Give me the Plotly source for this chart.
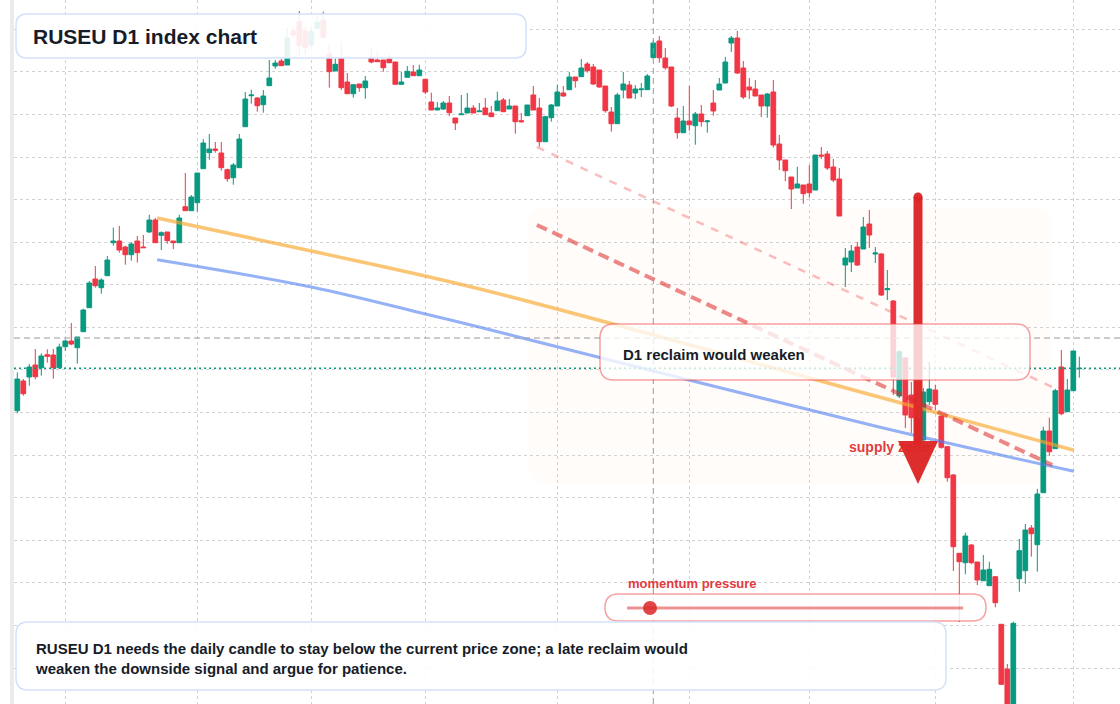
import plotly.graph_objects as go

# daily bars, oldest first (index units on the x axis)
open_ = [
    1293.3, 1323.0, 1327.0, 1339.0, 1336.3, 1349.3, 1349.0, 1336.3, 1357.3, 1363.0,
    1356.3, 1372.3, 1396.3, 1425.0, 1416.3, 1428.3, 1461.3, 1463.0, 1457.0, 1449.3,
    1463.0, 1457.0, 1472.0, 1484.0, 1468.7, 1472.0, 1463.0, 1461.3, 1497.3, 1493.3,
    1501.3, 1535.3, 1551.3, 1555.0, 1551.0, 1534.3, 1526.3, 1536.3, 1577.3, 1608.3,
    1606.0, 1599.3, 1618.3, 1638.0, 1643.0, 1639.0, 1673.0, 1682.3, 1673.0, 1659.0,
    1675.7, 1684.0, 1650.0, 1633.0, 1646.0, 1622.0, 1610.3, 1620.0, 1616.3, 1646.0,
    1644.0, 1644.0, 1645.0, 1642.0, 1619.7, 1626.7, 1632.0, 1628.3, 1624.7, 1602.0,
    1594.0, 1595.0, 1601.0, 1586.0, 1589.3, 1591.0, 1596.0, 1592.3, 1596.0, 1591.0,
    1593.3, 1604.0, 1595.0, 1598.0, 1583.3, 1588.3, 1609.0, 1596.0, 1562.3, 1586.3,
    1598.0, 1611.0, 1614.3, 1627.0, 1627.3, 1640.0, 1637.0, 1634.0, 1618.0, 1592.0,
    1580.3, 1614.0, 1619.0, 1611.0, 1614.3, 1614.3, 1646.3, 1663.0, 1646.0, 1637.0,
    1586.0, 1571.3, 1583.0, 1578.3, 1590.0, 1582.3, 1601.0, 1614.0, 1621.0, 1661.0,
    1666.0, 1636.0, 1617.0, 1615.0, 1609.0, 1598.0, 1612.0, 1560.0, 1544.0, 1527.0,
    1516.0, 1519.0, 1520.0, 1514.0, 1549.0, 1550.0, 1537.0, 1525.0, 1439.0, 1442.0,
    1457.0, 1455.0, 1480.0, 1450.0, 1450.0, 1414.3, 1403.0, 1308.0, 1346.0, 1309.0,
    1286.0, 1264.0, 1302.3, 1314.0, 1288.0, 1257.3, 1229.0, 1150.7, 1141.3, 1159.0,
    1142.0, 1123.3, 1118.3, 1127.3, 1079.7, 1035.0, 988.0, 1125.3, 1133.3, 1176.0,
    1159.3, 1211.3, 1273.0, 1255.3, 1337.0, 1292.3, 1313.3, 1335.3,
]
high = [
    1331.7, 1325.0, 1340.0, 1355.0, 1350.7, 1354.7, 1355.0, 1360.3, 1364.7, 1381.0,
    1367.0, 1395.3, 1423.0, 1438.0, 1425.7, 1448.0, 1476.3, 1478.0, 1458.3, 1462.0,
    1468.0, 1469.0, 1489.3, 1486.0, 1472.7, 1472.0, 1463.0, 1489.3, 1531.0, 1509.0,
    1531.0, 1565.0, 1570.0, 1562.0, 1562.0, 1535.3, 1541.0, 1570.0, 1612.0, 1614.3,
    1607.0, 1614.0, 1644.0, 1644.0, 1645.3, 1676.0, 1676.3, 1693.0, 1677.3, 1676.0,
    1689.0, 1692.3, 1659.0, 1646.0, 1662.3, 1631.0, 1619.3, 1620.0, 1628.0, 1656.0,
    1653.3, 1644.0, 1650.0, 1642.0, 1632.3, 1638.0, 1639.0, 1639.3, 1624.7, 1611.3,
    1602.0, 1603.0, 1608.0, 1586.0, 1609.0, 1611.0, 1599.0, 1601.0, 1606.0, 1598.0,
    1612.3, 1606.0, 1605.0, 1598.0, 1591.0, 1599.0, 1618.0, 1606.0, 1588.3, 1600.0,
    1619.0, 1618.0, 1632.0, 1627.0, 1645.0, 1642.0, 1640.0, 1634.0, 1618.0, 1597.0,
    1611.0, 1632.0, 1623.0, 1619.0, 1621.0, 1630.0, 1664.0, 1668.0, 1656.0, 1637.0,
    1596.0, 1598.0, 1618.0, 1592.0, 1599.0, 1584.0, 1614.0, 1626.0, 1647.0, 1668.0,
    1673.0, 1643.0, 1626.0, 1624.0, 1609.0, 1611.0, 1624.0, 1569.0, 1544.0, 1527.0,
    1537.3, 1519.0, 1539.0, 1549.0, 1557.0, 1553.0, 1545.0, 1536.0, 1456.0, 1459.0,
    1462.0, 1487.0, 1494.0, 1457.0, 1451.0, 1434.0, 1404.0, 1354.0, 1347.0, 1322.0,
    1294.0, 1316.0, 1342.0, 1319.0, 1288.0, 1257.3, 1230.0, 1151.0, 1171.3, 1160.0,
    1142.0, 1149.0, 1142.3, 1127.3, 1079.7, 1040.0, 1082.3, 1165.0, 1180.0, 1179.0,
    1215.0, 1277.3, 1286.3, 1315.3, 1354.0, 1325.0, 1353.0, 1347.3,
]
low = [
    1290.7, 1308.3, 1318.3, 1324.7, 1328.3, 1341.3, 1325.3, 1335.0, 1353.0, 1358.7,
    1340.3, 1372.3, 1396.3, 1416.3, 1410.3, 1428.3, 1458.3, 1451.3, 1439.3, 1443.3,
    1441.3, 1456.3, 1471.3, 1461.3, 1454.0, 1460.3, 1455.0, 1461.3, 1493.3, 1493.3,
    1492.3, 1535.3, 1544.3, 1551.3, 1533.3, 1522.3, 1519.3, 1536.3, 1577.3, 1600.3,
    1592.3, 1591.3, 1618.3, 1635.3, 1638.3, 1639.0, 1666.3, 1649.0, 1649.0, 1656.0,
    1675.7, 1666.3, 1616.3, 1633.0, 1614.0, 1610.3, 1606.3, 1612.3, 1605.3, 1640.7,
    1642.3, 1632.3, 1640.7, 1619.7, 1619.7, 1626.7, 1628.3, 1628.3, 1610.0, 1594.0,
    1594.0, 1594.0, 1588.0, 1574.0, 1589.3, 1591.0, 1591.0, 1592.3, 1589.3, 1587.3,
    1593.3, 1592.3, 1595.0, 1570.3, 1581.3, 1588.3, 1594.0, 1557.3, 1562.3, 1582.3,
    1598.0, 1607.3, 1614.3, 1616.3, 1627.3, 1631.3, 1619.0, 1616.3, 1591.3, 1572.3,
    1580.3, 1605.7, 1606.0, 1605.0, 1607.0, 1614.3, 1646.3, 1641.3, 1634.3, 1597.0,
    1565.3, 1571.3, 1573.3, 1559.3, 1577.3, 1571.3, 1588.3, 1614.0, 1621.0, 1652.0,
    1630.0, 1605.0, 1605.0, 1608.0, 1587.0, 1586.3, 1556.3, 1534.0, 1523.0, 1495.0,
    1516.0, 1500.3, 1506.3, 1514.0, 1545.0, 1534.0, 1522.0, 1488.0, 1417.0, 1432.0,
    1438.0, 1455.0, 1456.0, 1441.0, 1408.0, 1404.0, 1309.0, 1306.0, 1276.0, 1271.0,
    1259.0, 1262.0, 1299.0, 1294.0, 1255.3, 1222.3, 1133.0, 1082.0, 1129.7, 1139.7,
    1119.0, 1123.3, 1118.3, 1096.7, 1019.0, 979.0, 982.0, 1112.3, 1120.3, 1147.3,
    1132.3, 1211.3, 1248.3, 1255.3, 1288.7, 1292.3, 1313.3, 1326.3,
]
close = [
    1325.0, 1310.3, 1337.0, 1327.3, 1348.0, 1347.7, 1336.3, 1357.0, 1363.0, 1360.0,
    1367.0, 1394.0, 1421.0, 1418.3, 1424.0, 1444.0, 1463.0, 1454.0, 1449.3, 1460.0,
    1451.3, 1456.3, 1484.0, 1461.3, 1471.3, 1463.3, 1461.3, 1486.0, 1493.3, 1507.0,
    1531.0, 1561.0, 1555.0, 1553.7, 1536.3, 1525.3, 1539.0, 1565.0, 1605.0, 1609.0,
    1598.3, 1608.0, 1626.0, 1641.0, 1638.3, 1666.3, 1669.0, 1658.3, 1656.3, 1672.3,
    1681.7, 1666.3, 1632.3, 1639.7, 1616.3, 1610.3, 1619.3, 1616.3, 1623.0, 1642.0,
    1642.3, 1636.3, 1641.3, 1619.7, 1622.0, 1632.7, 1628.3, 1634.0, 1612.0, 1594.0,
    1596.0, 1601.0, 1591.3, 1581.0, 1590.0, 1596.0, 1591.0, 1593.0, 1589.3, 1587.3,
    1603.0, 1592.3, 1598.0, 1582.3, 1582.3, 1599.0, 1594.0, 1562.3, 1587.3, 1599.0,
    1612.0, 1608.0, 1627.0, 1623.3, 1636.0, 1633.3, 1620.0, 1617.0, 1593.3, 1580.3,
    1609.0, 1620.0, 1606.0, 1615.0, 1615.0, 1628.0, 1661.0, 1646.3, 1636.3, 1598.0,
    1571.3, 1583.0, 1579.3, 1590.0, 1582.3, 1583.0, 1593.0, 1620.0, 1642.0, 1666.0,
    1631.0, 1607.0, 1614.0, 1608.0, 1598.0, 1610.0, 1559.0, 1544.0, 1533.3, 1515.0,
    1520.0, 1510.3, 1511.3, 1549.0, 1548.0, 1536.0, 1524.0, 1488.0, 1446.0, 1453.0,
    1439.0, 1477.0, 1469.0, 1451.0, 1409.0, 1415.3, 1327.0, 1352.3, 1289.0, 1286.3,
    1264.0, 1312.0, 1315.0, 1299.7, 1256.7, 1226.3, 1157.3, 1142.3, 1168.0, 1141.3,
    1124.0, 1134.0, 1134.7, 1101.3, 1019.7, 986.0, 1080.7, 1153.3, 1174.0, 1170.3,
    1210.0, 1273.0, 1252.3, 1313.3, 1290.3, 1314.0, 1353.0, 1335.7,
]
bars = list(range(len(close)))

# month boundaries used for the vertical grid
grid_bars = [8, 30, 49, 68, 90, 112, 132, 153, 176]

# drawn analysis lines (bar index, price)
orange_x = [23.3, 49.0, 77.1, 143.8, 176.1]
orange_y = [1486.0, 1453.0, 1415.0, 1306.7, 1253.7]
blue_x = [23.3, 49.0, 68.0, 77.1, 143.8, 176.1]
blue_y = [1444.3, 1417.0, 1390.0, 1376.7, 1276.7, 1232.7]
upper_dash_x = [86.6, 172.5]
upper_dash_y = [1557.0, 1317.0]
lower_dash_x = [86.6, 172.5]
lower_dash_y = [1479.0, 1239.0]

# crosshair
cross_bar = 106
cross_price = 1366.0

title_text = "RUSEU D1 index chart"
note_text = ("RUSEU D1 needs the daily candle to stay below the current price zone; a late reclaim would"
             "<br>weaken the downside signal and argue for patience.")
reclaim_text = "D1 reclaim would weaken"
momentum_text = "momentum pressure"
supply_text = "supply zone"

GREEN = "#089981"
RED = "#f23645"
INK = "#161c28"
FONT = "Liberation Sans, Arial, sans-serif"

# page geometry (pixels) -> paper / data helpers
W, H, L = 1120, 704, 14
PW = W - L
X_RANGE = [-0.55, 183.78]
Y_RANGE = [1000, 1704]


def px(x):
    return (x - L) / PW


def py(y):
    return 1 - y / H


def to_bar(x):
    return X_RANGE[0] + (x - L) / PW * (X_RANGE[1] - X_RANGE[0])


def to_price(y):
    return Y_RANGE[1] - y / H * (Y_RANGE[1] - Y_RANGE[0])


def rounded_rect(x0, y0, x1, y1, r):
    pts = [
        ("M", x0 + r, y0), ("L", x1 - r, y0), ("Q", x1, y0, x1, y0 + r),
        ("L", x1, y1 - r), ("Q", x1, y1, x1 - r, y1), ("L", x0 + r, y1),
        ("Q", x0, y1, x0, y1 - r), ("L", x0, y0 + r), ("Q", x0, y0, x0 + r, y0),
    ]
    out = []
    for p in pts:
        if p[0] == "Q":
            out.append("Q%.5f,%.5f %.5f,%.5f" % (px(p[1]), py(p[2]), px(p[3]), py(p[4])))
        else:
            out.append("%s%.5f,%.5f" % (p[0], px(p[1]), py(p[2])))
    return " ".join(out) + " Z"


def box(x0, y0, x1, y1, r, fill, line, width=1.5, layer="above"):
    return dict(type="path", xref="paper", yref="paper", path=rounded_rect(x0, y0, x1, y1, r),
                fillcolor=fill, line=dict(color=line, width=width), layer=layer)


fig = go.Figure()

fig.add_trace(go.Candlestick(
    x=bars, open=open_, high=high, low=low, close=close,
    increasing=dict(line=dict(color=GREEN, width=1), fillcolor=GREEN),
    decreasing=dict(line=dict(color=RED, width=1), fillcolor=RED),
    whiskerwidth=0, showlegend=False, hoverinfo="skip",
))

fig.add_trace(go.Scatter(x=orange_x, y=orange_y, mode="lines", line_shape="spline",
                         line=dict(color="rgba(247,168,44,0.65)", width=3.5),
                         showlegend=False, hoverinfo="skip"))
fig.add_trace(go.Scatter(x=blue_x, y=blue_y, mode="lines", line_shape="spline",
                         line=dict(color="rgba(79,127,242,0.6)", width=3),
                         showlegend=False, hoverinfo="skip"))
fig.add_trace(go.Scatter(x=upper_dash_x, y=upper_dash_y, mode="lines",
                         line=dict(color="rgba(239,68,68,0.35)", width=2.5, dash="8px,8px"),
                         showlegend=False, hoverinfo="skip"))
fig.add_trace(go.Scatter(x=lower_dash_x, y=lower_dash_y, mode="lines",
                         line=dict(color="rgba(220,38,38,0.55)", width=4, dash="11px,6px"),
                         showlegend=False, hoverinfo="skip"))

# label sits under the arrow, so it is a trace rather than an annotation
fig.add_trace(go.Scatter(x=[to_bar(849)], y=[to_price(448.7)], mode="text",
                         text=["<b>%s</b>" % supply_text], textposition="middle right",
                         textfont=dict(family=FONT, size=14, color="#e23b40"),
                         showlegend=False, hoverinfo="skip"))

shapes = [
    # faint zone behind the drop
    box(527, 207, 1052, 483, 20, "rgba(234,88,12,0.018)", "rgba(0,0,0,0)", 0, layer="below"),
    # crosshair + last price
    dict(type="line", xref="x", yref="paper", x0=cross_bar, x1=cross_bar, y0=0, y1=1,
         line=dict(color="#9a9a9a", width=1, dash="6px,4px"), layer="above"),
    dict(type="line", xref="paper", yref="y", x0=0, x1=1, y0=cross_price, y1=cross_price,
         line=dict(color="#9a9a9a", width=1, dash="6px,4px"), layer="above"),
    dict(type="line", xref="paper", yref="y", x0=0, x1=1, y0=close[-1], y1=close[-1],
         line=dict(color=GREEN, width=1.5, dash="2px,3px"), layer="above"),
    # big down arrow
    dict(type="line", xref="paper", yref="paper", x0=px(918), x1=px(918), y0=py(197), y1=py(444),
         line=dict(color="rgba(220,38,38,0.97)", width=9), layer="above"),
    dict(type="circle", xref="paper", yref="paper", x0=px(913.5), x1=px(922.5), y0=py(192.5), y1=py(201.5),
         fillcolor="rgba(220,38,38,0.97)", line=dict(width=0), layer="above"),
    dict(type="path", xref="paper", yref="paper",
         path="M%.5f,%.5f L%.5f,%.5f L%.5f,%.5f Z" % (px(898), py(441), px(938), py(441), px(918), py(484)),
         fillcolor="rgba(220,38,38,0.97)", line=dict(width=0), layer="above"),
    # boxes
    box(16, 14, 526, 58, 11, "rgba(255,255,255,0.9)", "#d3e2fb"),
    box(600, 324, 1030, 380, 14, "rgba(255,255,255,0.78)", "rgba(239,68,68,0.5)"),
    box(605, 594, 986, 621, 13.5, "rgba(255,255,255,0.82)", "rgba(239,68,68,0.5)"),
    dict(type="line", xref="paper", yref="paper", x0=px(627), x1=px(963), y0=py(608), y1=py(608),
         line=dict(color="rgba(220,38,38,0.5)", width=3), layer="above"),
    dict(type="circle", xref="paper", yref="paper", x0=px(643), x1=px(657), y0=py(601), y1=py(615),
         fillcolor="rgba(220,38,38,0.85)", line=dict(width=0), layer="above"),
    box(16, 622, 946, 690, 12, "rgba(255,255,255,0.9)", "#d3e2fb"),
]


def label(text, x, y, size, color=INK):
    return dict(text="<b>%s</b>" % text, xref="paper", yref="paper", x=px(x), y=py(y),
                xanchor="left", yanchor="middle", align="left", showarrow=False,
                font=dict(family=FONT, size=size, color=color))


annotations = [
    label(title_text, 31, 36, 21),
    label(reclaim_text, 621, 354, 15),
    label(momentum_text, 626, 583, 13, "#e23b40"),
    label(note_text, 33, 658, 15),
]

fig.update_layout(
    width=W, height=H,
    margin=dict(l=L, r=0, t=0, b=0),
    paper_bgcolor="white", plot_bgcolor="white",
    boxgap=0.1, boxgroupgap=0.13,
    showlegend=False,
    shapes=shapes, annotations=annotations,
    xaxis=dict(range=X_RANGE, tickmode="array", tickvals=grid_bars, showticklabels=False,
               ticks="", showgrid=True, gridcolor="#d2d2d2", griddash="dot", gridwidth=1,
               zeroline=False, showline=False, rangeslider=dict(visible=False)),
    yaxis=dict(range=Y_RANGE, tickmode="linear", tick0=1036.0, dtick=42.58, showticklabels=False,
               ticks="", showgrid=True, gridcolor="#d2d2d2", griddash="dot", gridwidth=1,
               zeroline=False, showline=True, linecolor="#ebebeb", linewidth=4),
)

# the page's default 8px body margin would push the chart off its frame
fig.write_html("out.html", config={"displayModeBar": False},
               post_script="document.body.style.margin = '0px';")
